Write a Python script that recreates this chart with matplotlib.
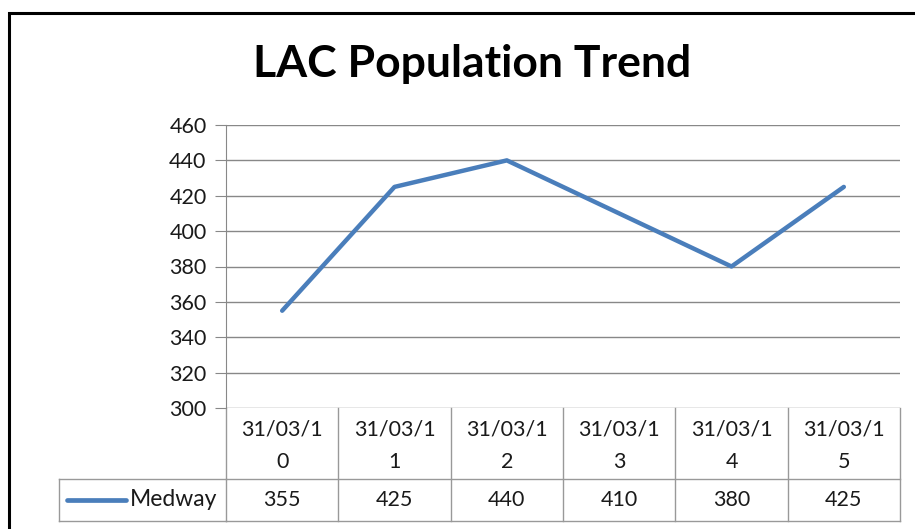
import matplotlib.pyplot as plt
from matplotlib.patches import Rectangle
from matplotlib.lines import Line2D
import matplotlib.transforms as mtransforms

plt.rcParams['font.family'] = ['Lato', 'DejaVu Sans']

# data
dates = ['31/03/10', '31/03/11', '31/03/12', '31/03/13', '31/03/14', '31/03/15']
medway = [355, 425, 440, 410, 380, 425]
series_name = 'Medway'
yticks = list(range(300, 461, 20))

W, H = 915, 529
fs = 15.5
fig = plt.figure(figsize=(W / 100, H / 100), dpi=100)

# outer frame of the chart
fig.add_artist(Rectangle((9 / W, -0.1), 1.1, 1 - 13 / H + 0.1,
                         transform=fig.transFigure, fill=False,
                         edgecolor='black', linewidth=2.2))

left, right, top, bottom = 226, 900, 125, 408
ax = fig.add_axes([left / W, 1 - bottom / H, (right - left) / W, (bottom - top) / H])

x = list(range(len(dates)))
ax.plot(x, medway, color='#4A7EBB', linewidth=3.2, solid_capstyle='round')

ax.set_xlim(-0.5, len(dates) - 0.5)
ax.set_ylim(300, 460)
ax.set_yticks(yticks)
ax.set_xticks([])
ax.grid(axis='y', color='#888888', linewidth=1)
ax.set_axisbelow(True)
for s in ['top', 'right', 'bottom']:
    ax.spines[s].set_visible(False)
ax.spines['left'].set_color('#888888')
ax.tick_params(axis='y', length=8, color='#888888', labelsize=fs,
               labelcolor='#1a1a1a', pad=6)

fig.text(472 / W, 1 - 64 / H, 'LAC Population Trend', ha='center', va='center',
         fontsize=32, fontweight='bold', color='black')

# data table below the plot
tr = mtransforms.blended_transform_factory(ax.transData, ax.transAxes)
ph = bottom - top
y_head = -(479 - bottom) / ph
y_row = -(521 - bottom) / ph
gc = '#999999'
lw = 1

for i in range(len(dates) + 1):
    xi = i - 0.5
    ax.add_line(Line2D([xi, xi], [0, y_row], transform=tr, color=gc,
                       linewidth=lw, clip_on=False))
ax.add_line(Line2D([-0.5, len(dates) - 0.5], [y_head, y_head], transform=tr,
                   color=gc, linewidth=lw, clip_on=False))
ax.add_line(Line2D([-0.5, len(dates) - 0.5], [y_row, y_row], transform=tr,
                   color=gc, linewidth=lw, clip_on=False))

# legend cell
lx0 = 59 / W
ax_left = left / W
fy_head = 1 - 479 / H
fy_row = 1 - 521 / H
fig.add_artist(Line2D([lx0, ax_left], [fy_head, fy_head], transform=fig.transFigure,
                      color=gc, linewidth=lw))
fig.add_artist(Line2D([lx0, ax_left], [fy_row, fy_row], transform=fig.transFigure,
                      color=gc, linewidth=lw))
fig.add_artist(Line2D([lx0, lx0], [fy_head, fy_row], transform=fig.transFigure,
                      color=gc, linewidth=lw))
fy_mid = (fy_head + fy_row) / 2
fig.add_artist(Line2D([67 / W, 126 / W], [fy_mid, fy_mid], transform=fig.transFigure,
                      color='#4A7EBB', linewidth=3.4, solid_capstyle='round'))
fig.text(130 / W, fy_mid, series_name, ha='left', va='center', fontsize=16.5,
         color='#1a1a1a')

for i, (d, v) in enumerate(zip(dates, medway)):
    ax.text(i, -(430 - bottom) / ph, d[:-1], transform=tr, ha='center', va='center',
            fontsize=fs, color='#1a1a1a')
    ax.text(i, -(462 - bottom) / ph, d[-1], transform=tr, ha='center', va='center',
            fontsize=fs, color='#1a1a1a')
    ax.text(i, (y_head + y_row) / 2, str(v), transform=tr, ha='center', va='center',
            fontsize=fs, color='#1a1a1a')

fig.savefig('out.png', dpi=100)
